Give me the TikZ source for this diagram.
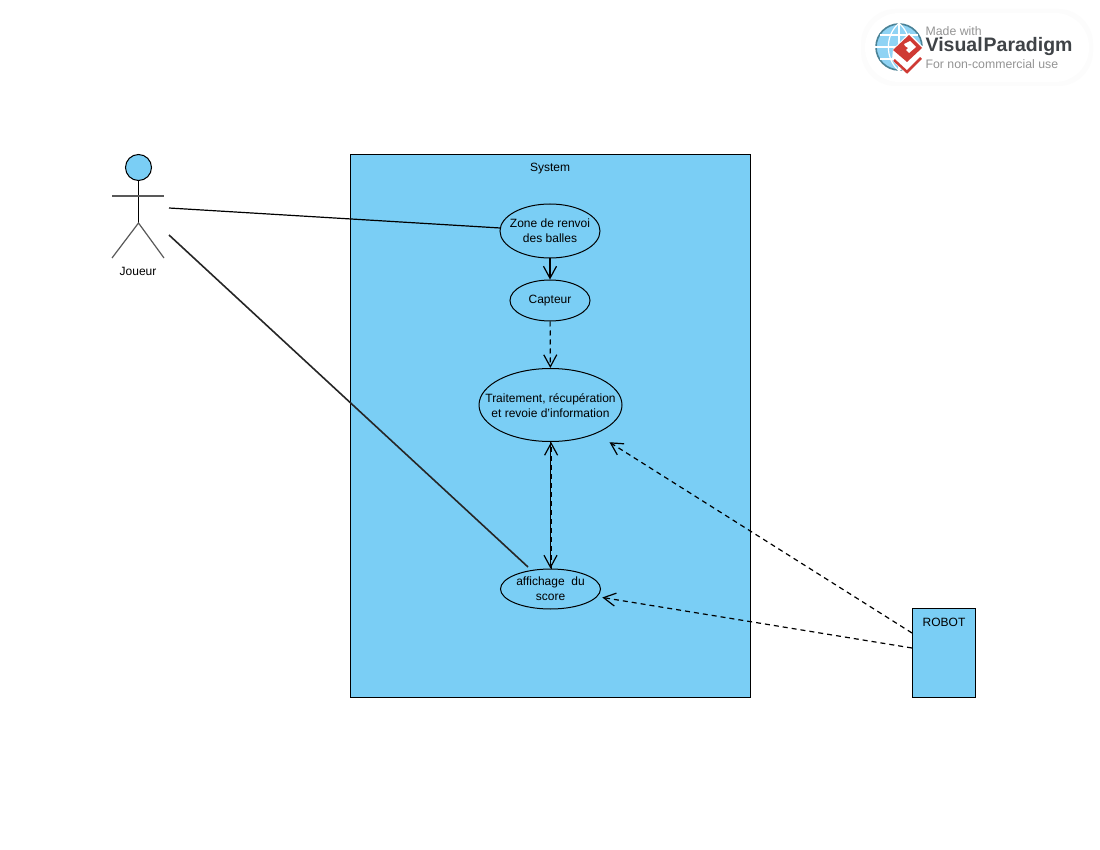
\documentclass[tikz,border=0pt]{standalone}
\usepackage{fontspec}
\setmainfont{Liberation Sans}
\usepackage{tikz}
\usetikzlibrary{shapes.geometric,arrows.meta}
\definecolor{sysblue}{HTML}{7ACEF5}
\definecolor{logogrey}{HTML}{949494}
\definecolor{logodark}{HTML}{3F4347}
\definecolor{logored}{HTML}{CF3A34}
\definecolor{globeblue}{HTML}{8FD3F4}
\definecolor{globeedge}{HTML}{4A8296}

\begin{document}
\begin{tikzpicture}[x=1pt, y=-1pt, line width=1.2pt, font=\fontsize{12}{15}\selectfont,
    >={Straight Barb[length=12pt,width=13pt,line width=1.2pt]},
    dashes/.style = {dash pattern=on 5pt off 4pt},
    box/.style = {draw, line width=1pt, fill=sysblue, rectangle, anchor=north west, inner sep=0pt},
    usecase/.style = {draw, fill=sysblue, ellipse, inner sep=0pt, line width=1pt},
    casetext/.style = {align=center, inner sep=0pt, yshift=-0.2pt},
    limb/.style = {draw=black!65},
    logotext/.style = {anchor=west, inner sep=0pt, text=logogrey, font=\fontsize{12.3}{14}\selectfont}]
    \useasboundingbox (0,0) rectangle (1100,850);
    \fill[white] (0,0) rectangle (1100,850);
    % logo
    \foreach \g in {4,3,2,1}
      \fill[black!1, rounded corners=35pt] (865-\g,13-\g) rectangle (1089+\g,82+\g);
    \fill[white, rounded corners=34pt] (865,13) rectangle (1089,82);
    \node[draw=globeedge, fill=globeblue, circle, minimum size=46pt, inner sep=0pt, line width=1.6pt] (globe) at (899,47) {};
    \draw[white] (globe.north) -- (globe.south);
    \draw[white] (globe.west) -- (globe.east);
    \draw[white] (globe.north) to [bend right=50] (globe.south);
    \draw[white] (globe.north) to [bend left=50] (globe.south);
    \draw[white] (880,35) -- (918,35);
    \draw[white] (880,59) -- (918,59);
    \fill[white] (893,49) -- (909,33) -- (924,48) -- (923,59) -- (907,75) -- (892,60) -- cycle;
    \fill[logored] (893,50) -- (909,35) -- (922,48) -- (907,62) -- cycle;
    \fill[white] (904,44) -- (910,41) -- (916,47) -- (909,53) -- (906,50) -- (908,48) -- (905,46) -- cycle;
    \draw[logored, line width=2.5pt] (894,60) -- (907,72) -- (921,58);
    \node[logotext] (logo1) at (925,31) {Made with};
    \node[logotext, text=logodark, font=\fontsize{19.5}{24}\bfseries\selectfont] (logo2) at (925,47) {Visual\kern1pt Paradigm};
    \node[logotext] (logo3) at (925,64) {For non-commercial use};
    % system
    \node[box, minimum width=400pt, minimum height=543pt] (system) at (350,154) {};
    \node[inner sep=0pt] (systitle) at (550,169) {System};
    \node[usecase, minimum width=100pt, minimum height=54pt,
      label={[casetext]center:{Zone de renvoi\\des balles}}] (zone) at (550,231) {};
    \node[usecase, minimum width=80pt, minimum height=41pt,
      label={[casetext]center:{Capteur}}] (capteur) at (550,300.5) {};
    \node[usecase, minimum width=143pt, minimum height=73pt,
      label={[casetext]center:{Traitement, récupération\\et revoie d'information}}] (traitement) at (550.5,405) {};
    \node[usecase, minimum width=100pt, minimum height=40pt,
      label={[casetext]center:{affichage\ \ du\\score}}] (affichage) at (550.5,589) {};
    % robot
    \node[box, minimum width=63pt, minimum height=89pt] (robot) at (912,608) {};
    \node[inner sep=0pt] (robottitle) at (944,622) {ROBOT};
    % actor
    \node[draw, fill=sysblue, circle, minimum size=26pt, inner sep=0pt, line width=1pt] (head) at (138.5,167.5) {};
    \coordinate (hip) at (138.5,223);
    \coordinate (armL) at (112,196);
    \coordinate (armR) at (164,196);
    \coordinate (footL) at (112,258);
    \coordinate (footR) at (164,258);
    \draw (head) -- (hip);
    \draw[limb] (armL) -- (armR);
    \draw[limb] (footL) -- (hip) -- (footR);
    \node[inner sep=0pt] (joueur) at (138,271) {Joueur};
    % connectors
    \coordinate (actorA) at (169,208);
    \coordinate (actorB) at (169,235);
    \coordinate (affTop) at (528,567);
    \coordinate (robotA) at (912,633);
    \coordinate (robotB) at (912,648);
    \draw (actorA) -- (zone);
    \draw[line width=1.6pt, black!85] (actorB) -- (affTop);
    \draw[->] (zone) -- (capteur);
    \draw[->, dashes] (capteur) -- (traitement);
    \draw[->] (traitement) -- (affichage);
    \draw[->, dashes, transform canvas={xshift=0.6pt}] (affichage) -- (traitement);
    \draw[->, dashes, shorten >=16pt] (robotA) -- (traitement);
    \draw[->, dashes, shorten >=5pt] (robotB) -- (affichage);
\end{tikzpicture}
\end{document}
